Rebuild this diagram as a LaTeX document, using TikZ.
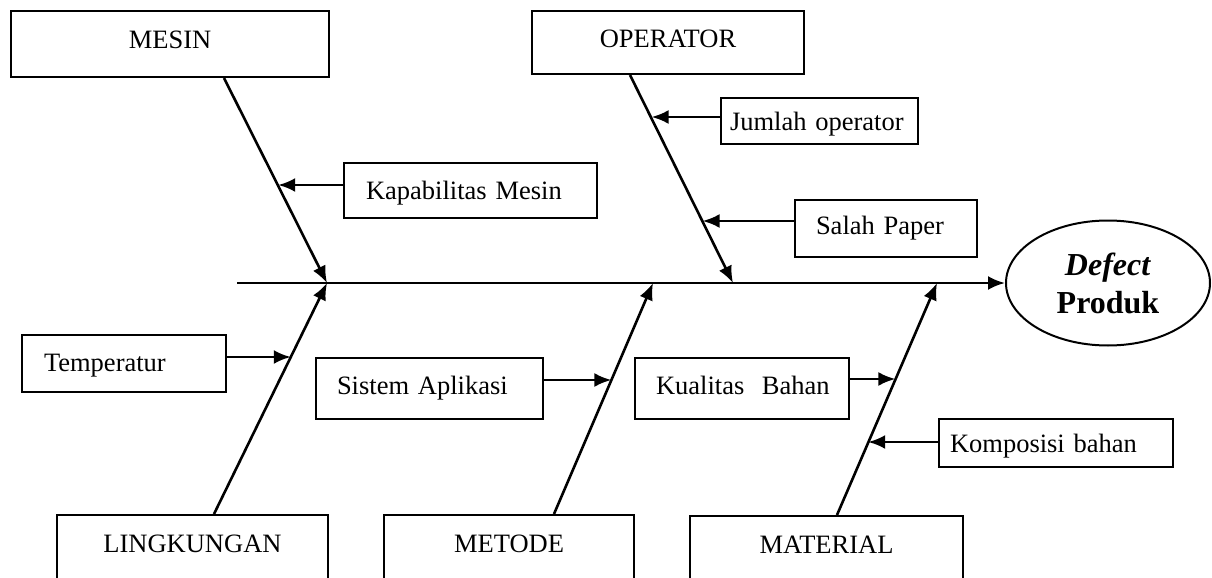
\documentclass[tikz,border=0pt]{standalone}
\usepackage{fontspec}
\setmainfont{Liberation Serif}
\usetikzlibrary{arrows.meta,shapes.geometric}
\begin{document}
\begin{tikzpicture}[x=0.5pt,y=-0.5pt,
  lbl/.style={font=\fontsize{13.25}{16}\selectfont},
  box/.style={draw, line width=1pt, fill=white, inner sep=0pt, anchor=north west, lbl},
  catbox/.style={box, text height=18.5pt},
  causebox/.style={box, align=left},
  bone/.style={line width=1.3pt, -{Latex[length=8.5pt,width=7pt]}},
]
\useasboundingbox (0,0) rectangle (1212,578);
\clip (0,0) rectangle (1212,578);

% main categories
\node[catbox, minimum width=159pt, text depth=14.5pt] (mesin) at (10,10) {MESIN};
\node[catbox, minimum width=136pt, text height=18pt, text depth=13.5pt] (operator) at (531,10) {OPERATOR};
\node[catbox, minimum width=135.5pt, text depth=40pt] (lingkungan) at (56,514) {LINGKUNGAN};
\node[catbox, minimum width=125pt, text depth=40pt] (metode) at (383,514) {METODE};
\node[catbox, minimum width=136.5pt, text depth=40pt] (material) at (689,515) {MATERIAL};

% causes
\node[causebox, text width=89.5pt, inner xsep=4.5pt, text height=16pt, text depth=7pt] (jumlah) at (720,97) {\mbox{Jumlah operator}};
\node[causebox, text width=104.5pt, inner xsep=11pt, text height=18pt, text depth=9.5pt] (kapabilitas) at (343,162) {\mbox{Kapabilitas Mesin}};
\node[causebox, text width=70pt, inner xsep=10.5pt, text height=17pt, text depth=11.5pt] (salah) at (794,199) {\mbox{Salah Paper}};
\node[causebox, text width=80pt, inner xsep=11pt, text height=18pt, text depth=10.5pt] (temperatur) at (21,334) {\mbox{Temperatur}};
\node[causebox, text width=92.5pt, inner xsep=10.5pt, text height=18pt, text depth=12.5pt] (sistem) at (315,357) {\mbox{Sistem Aplikasi}};
\node[causebox, text width=86pt, inner xsep=10.5pt, text height=18pt, text depth=12.5pt] (kualitas) at (634,357) {\mbox{Kualitas\ \ Bahan}};
\node[causebox, text width=106pt, inner xsep=5.5pt, text height=16.5pt, text depth=7.5pt] (komposisi) at (938,418) {\mbox{Komposisi bahan}};

% effect
\node[draw, ellipse, line width=1pt, fill=white, minimum width=102pt, minimum height=62.5pt,
      inner sep=0pt, align=center, font=\fontsize{16}{19}\selectfont\bfseries] (produk) at (1108,283)
      {\textit{Defect}\\Produk};

% spine
\coordinate (tail) at (237,283);
\draw[bone] (tail) -- (produk.west);

% bone tips on the spine
\coordinate (mesinTip) at (327,283);
\coordinate (operatorTip) at (733,283);
\coordinate (lingkunganTip) at (327,283);
\coordinate (metodeTip) at (653,283);
\coordinate (materialTip) at (937,283);

% bones
\draw[bone] ([xshift=107pt]mesin.south west) -- (mesinTip);
\draw[bone] ([xshift=49.5pt]operator.south west) -- (operatorTip);
\draw[bone] ([xshift=79pt]lingkungan.north west) -- (lingkunganTip);
\draw[bone] ([xshift=85.5pt]metode.north west) -- (metodeTip);
\draw[bone] ([xshift=74pt]material.north west) -- (materialTip);

% points where causes meet their bones
\coordinate (kapT) at (278.2,185);
\coordinate (jumT) at (651.6,117);
\coordinate (salT) at (702.6,221);
\coordinate (temT) at (290.8,357);
\coordinate (sisT) at (611.4,380);
\coordinate (kuaT) at (895.4,379);
\coordinate (komT) at (868.2,442);

% cause arrows
\draw[bone] (kapabilitas.west |- kapT) -- (kapT);
\draw[bone] (jumlah.west |- jumT) -- (jumT);
\draw[bone] (salah.west |- salT) -- (salT);
\draw[bone] (temperatur.east |- temT) -- (temT);
\draw[bone] (sistem.east |- sisT) -- (sisT);
\draw[bone] (kualitas.east |- kuaT) -- (kuaT);
\draw[bone] (komposisi.west |- komT) -- (komT);
\end{tikzpicture}
\end{document}
